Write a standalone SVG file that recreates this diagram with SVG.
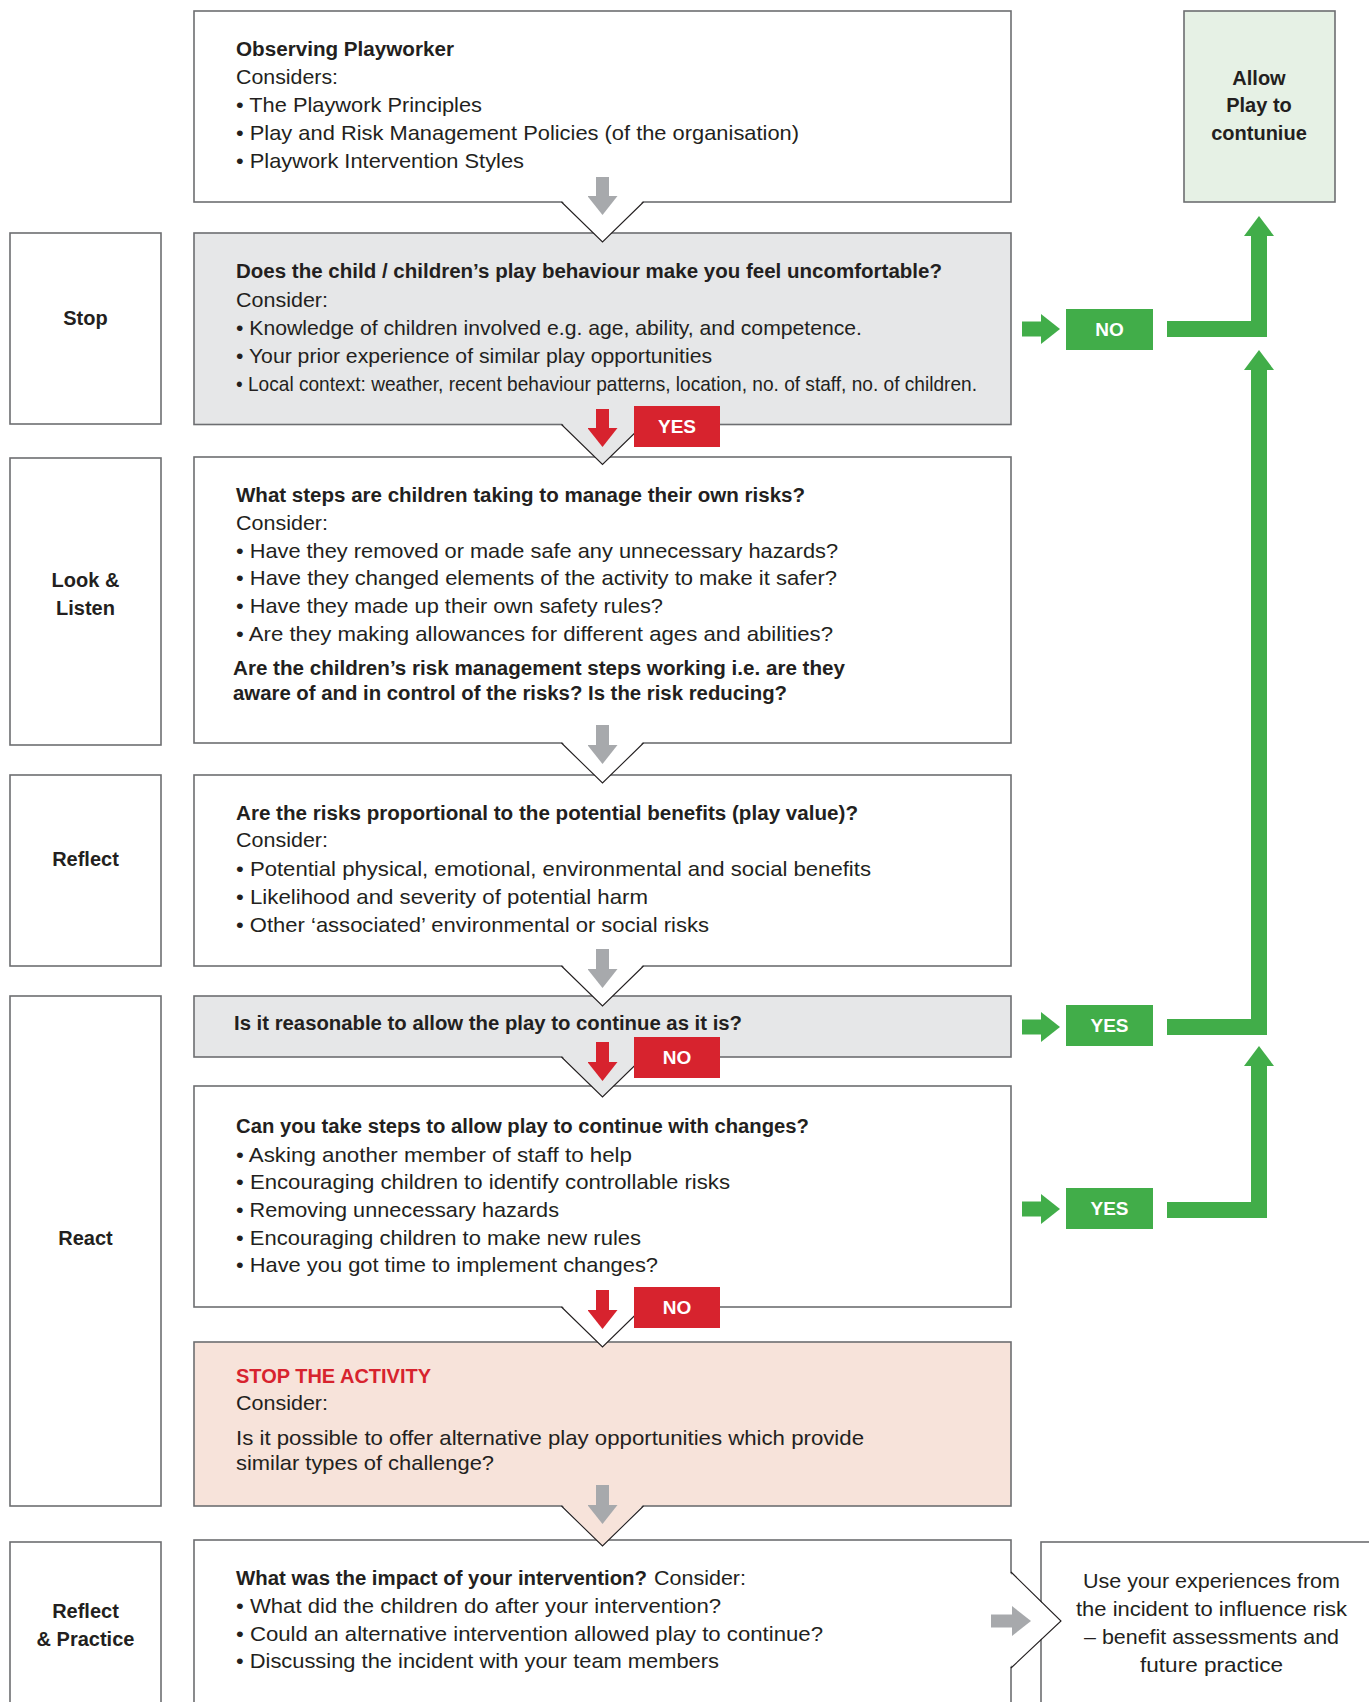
<svg xmlns="http://www.w3.org/2000/svg" width="1369" height="1702" viewBox="0 0 1369 1702">
<style>
.t{font-family:'Liberation Sans',Arial,sans-serif;font-size:21px;fill:#231f20}
.b{font-family:'Liberation Sans',Arial,sans-serif;font-size:20px;font-weight:bold;fill:#231f20}
.lbl{font-family:'Liberation Sans',Arial,sans-serif;font-size:20px;font-weight:bold;fill:#231f20;text-anchor:middle}
.tag{font-family:'Liberation Sans',Arial,sans-serif;font-size:19px;font-weight:bold;fill:#ffffff;text-anchor:middle}
.box{stroke:#6d6e71;stroke-width:1.6}
.arm{fill:none;stroke:#231f20;stroke-width:1.1}
.white{fill:#ffffff}
.grey{fill:#e6e7e8}
.peach{fill:#f7e3da}
.lgreen{fill:#e6f1e5}
.red{fill:#d7232e}
.green{fill:#41ad49}
.gA{stroke:#a7a9ac;stroke-width:13;fill:none}
.rA{stroke:#d7232e;stroke-width:13;fill:none}
.sA{stroke:#41ad49;stroke-width:15;fill:none}
.cA{stroke:#41ad49;stroke-width:16;fill:none;stroke-linejoin:miter}
</style>
<defs>
<marker id="hg" viewBox="0 0 19 30" markerWidth="19" markerHeight="30" refX="0" refY="15" orient="auto" markerUnits="userSpaceOnUse"><path d="M0,0 L19,15 L0,30 Z" fill="#a7a9ac"/></marker>
<marker id="hr" viewBox="0 0 19 30" markerWidth="19" markerHeight="30" refX="0" refY="15" orient="auto" markerUnits="userSpaceOnUse"><path d="M0,0 L19,15 L0,30 Z" fill="#d7232e"/></marker>
<marker id="hgr" viewBox="0 0 19 30" markerWidth="19" markerHeight="30" refX="0" refY="15" orient="auto" markerUnits="userSpaceOnUse"><path d="M0,0 L19,15 L0,30 Z" fill="#41ad49"/></marker>
<marker id="hgb" viewBox="0 0 20 30" markerWidth="20" markerHeight="30" refX="0" refY="15" orient="auto" markerUnits="userSpaceOnUse"><path d="M0,0 L20,15 L0,30 Z" fill="#41ad49"/></marker>
</defs>
<rect width="1369" height="1702" fill="#ffffff"/>

<!-- left labels -->
<g id="label-stop"><rect class="box white" x="10" y="233" width="151" height="191"/><text class="lbl" x="85.5" y="325">Stop</text></g>
<g id="label-look"><rect class="box white" x="10" y="458" width="151" height="287"/><text class="lbl" x="85.5" y="587">Look &amp;</text><text class="lbl" x="85.5" y="615">Listen</text></g>
<g id="label-reflect"><rect class="box white" x="10" y="775" width="151" height="191"/><text class="lbl" x="85.5" y="866">Reflect</text></g>
<g id="label-react"><rect class="box white" x="10" y="996" width="151" height="510"/><text class="lbl" x="85.5" y="1245">React</text></g>
<g id="label-practice"><rect class="box white" x="10" y="1542" width="151" height="200"/><text class="lbl" x="85.5" y="1618">Reflect</text><text class="lbl" x="85.5" y="1646">&amp; Practice</text></g>

<!-- right outcome boxes -->
<g id="allow"><rect class="box lgreen" x="1184" y="11" width="151" height="191"/><text class="lbl" x="1259" y="85">Allow</text><text class="lbl" x="1259" y="112">Play to</text><text class="lbl" x="1259" y="140">contuniue</text></g>
<g id="use-experiences"><rect class="box white" x="1041" y="1542" width="340" height="200"/>
<text class="t" x="1211.5" y="1588" text-anchor="middle" textLength="257" lengthAdjust="spacingAndGlyphs">Use your experiences from</text>
<text class="t" x="1211.5" y="1616" text-anchor="middle" textLength="271" lengthAdjust="spacingAndGlyphs">the incident to influence risk</text>
<text class="t" x="1211.5" y="1644" text-anchor="middle" textLength="255" lengthAdjust="spacingAndGlyphs">– benefit assessments and</text>
<text class="t" x="1211.5" y="1672" text-anchor="middle" textLength="143" lengthAdjust="spacingAndGlyphs">future practice</text></g>

<!-- main boxes, bottom first so pointers overlap -->
<g id="impact">
<rect class="box white" x="194" y="1540" width="817" height="200"/>
<polygon class="white" points="1009,1572 1061,1621 1009,1668"/>
<polyline class="arm" points="1011,1572 1061,1621 1011,1668"/>
<text class="b" x="236" y="1585" textLength="411" lengthAdjust="spacingAndGlyphs">What was the impact of your intervention?</text><text class="t" x="654" y="1585" textLength="92" lengthAdjust="spacingAndGlyphs">Consider:</text>
<text class="t" x="236" y="1613" textLength="485" lengthAdjust="spacingAndGlyphs">• What did the children do after your intervention?</text>
<text class="t" x="236" y="1641" textLength="587" lengthAdjust="spacingAndGlyphs">• Could an alternative intervention allowed play to continue?</text>
<text class="t" x="236" y="1668" textLength="483" lengthAdjust="spacingAndGlyphs">• Discussing the incident with your team members</text>
</g>

<g id="stop-activity">
<rect class="box peach" x="194" y="1342" width="817" height="164"/>
<polygon class="peach" points="561.5,1504.5 602.5,1546 643.5,1504.5"/>
<polyline class="arm" points="561.5,1506 602.5,1546 643.5,1506"/>
<text class="b" x="236" y="1383" style="fill:#d7232e" textLength="195" lengthAdjust="spacingAndGlyphs">STOP THE ACTIVITY</text>
<text class="t" x="236" y="1410" textLength="92" lengthAdjust="spacingAndGlyphs">Consider:</text>
<text class="t" x="236" y="1445" textLength="628" lengthAdjust="spacingAndGlyphs">Is it possible to offer alternative play opportunities which provide</text>
<text class="t" x="236" y="1470" textLength="258" lengthAdjust="spacingAndGlyphs">similar types of challenge?</text>
</g>

<g id="changes">
<rect class="box white" x="194" y="1086" width="817" height="221"/>
<polygon class="white" points="561.5,1305.5 602.5,1347 643.5,1305.5"/>
<polyline class="arm" points="561.5,1307 602.5,1347 643.5,1307"/>
<text class="b" x="236" y="1133" textLength="573" lengthAdjust="spacingAndGlyphs">Can you take steps to allow play to continue with changes?</text>
<text class="t" x="236" y="1162" textLength="396" lengthAdjust="spacingAndGlyphs">• Asking another member of staff to help</text>
<text class="t" x="236" y="1189" textLength="494" lengthAdjust="spacingAndGlyphs">• Encouraging children to identify controllable risks</text>
<text class="t" x="236" y="1217" textLength="323" lengthAdjust="spacingAndGlyphs">• Removing unnecessary hazards</text>
<text class="t" x="236" y="1245" textLength="405" lengthAdjust="spacingAndGlyphs">• Encouraging children to make new rules</text>
<text class="t" x="236" y="1272" textLength="422" lengthAdjust="spacingAndGlyphs">• Have you got time to implement changes?</text>
</g>

<g id="reasonable">
<rect class="box grey" x="194" y="996" width="817" height="61"/>
<polygon class="grey" points="561.5,1055.5 602.5,1097 643.5,1055.5"/>
<polyline class="arm" points="561.5,1057 602.5,1097 643.5,1057"/>
<text class="b" x="234" y="1030" textLength="508" lengthAdjust="spacingAndGlyphs">Is it reasonable to allow the play to continue as it is?</text>
</g>

<g id="proportional">
<rect class="box white" x="194" y="775" width="817" height="191"/>
<polygon class="white" points="561.5,964.5 602.5,1006 643.5,964.5"/>
<polyline class="arm" points="561.5,966 602.5,1006 643.5,966"/>
<text class="b" x="236" y="820" textLength="622" lengthAdjust="spacingAndGlyphs">Are the risks proportional to the potential benefits (play value)?</text>
<text class="t" x="236" y="847" textLength="92" lengthAdjust="spacingAndGlyphs">Consider:</text>
<text class="t" x="236" y="876" textLength="635" lengthAdjust="spacingAndGlyphs">• Potential physical, emotional, environmental and social benefits</text>
<text class="t" x="236" y="904" textLength="412" lengthAdjust="spacingAndGlyphs">• Likelihood and severity of potential harm</text>
<text class="t" x="236" y="932" textLength="473" lengthAdjust="spacingAndGlyphs">• Other ‘associated’ environmental or social risks</text>
</g>

<g id="children-steps">
<rect class="box white" x="194" y="457" width="817" height="286"/>
<polygon class="white" points="561.5,741.5 602.5,783 643.5,741.5"/>
<polyline class="arm" points="561.5,743 602.5,783 643.5,743"/>
<text class="b" x="236" y="502" textLength="569" lengthAdjust="spacingAndGlyphs">What steps are children taking to manage their own risks?</text>
<text class="t" x="236" y="530" textLength="92" lengthAdjust="spacingAndGlyphs">Consider:</text>
<text class="t" x="236" y="558" textLength="602" lengthAdjust="spacingAndGlyphs">• Have they removed or made safe any unnecessary hazards?</text>
<text class="t" x="236" y="585" textLength="601" lengthAdjust="spacingAndGlyphs">• Have they changed elements of the activity to make it safer?</text>
<text class="t" x="236" y="613" textLength="427" lengthAdjust="spacingAndGlyphs">• Have they made up their own safety rules?</text>
<text class="t" x="236" y="641" textLength="597" lengthAdjust="spacingAndGlyphs">• Are they making allowances for different ages and abilities?</text>
<text class="b" x="233" y="675" textLength="612" lengthAdjust="spacingAndGlyphs">Are the children’s risk management steps working i.e. are they</text>
<text class="b" x="233" y="700" textLength="554" lengthAdjust="spacingAndGlyphs">aware of and in control of the risks? Is the risk reducing?</text>
</g>

<g id="uncomfortable">
<rect class="box grey" x="194" y="233" width="817" height="191.5"/>
<polygon class="grey" points="561.5,423 602.5,464.5 643.5,423"/>
<polyline class="arm" points="561.5,424.5 602.5,464.5 643.5,424.5"/>
<text class="b" x="236" y="278" textLength="706" lengthAdjust="spacingAndGlyphs">Does the child / children’s play behaviour make you feel uncomfortable?</text>
<text class="t" x="236" y="307" textLength="92" lengthAdjust="spacingAndGlyphs">Consider:</text>
<text class="t" x="236" y="335" textLength="626" lengthAdjust="spacingAndGlyphs">• Knowledge of children involved e.g. age, ability, and competence.</text>
<text class="t" x="236" y="363" textLength="476" lengthAdjust="spacingAndGlyphs">• Your prior experience of similar play opportunities</text>
<text class="t" x="236" y="391" textLength="741" lengthAdjust="spacingAndGlyphs">• Local context: weather, recent behaviour patterns, location, no. of staff, no. of children.</text>
</g>

<g id="observing">
<rect class="box white" x="194" y="11" width="817" height="191"/>
<polygon class="white" points="561.5,200.5 602.5,242 643.5,200.5"/>
<polyline class="arm" points="561.5,202 602.5,242 643.5,202"/>
<text class="b" x="236" y="56" textLength="218" lengthAdjust="spacingAndGlyphs">Observing Playworker</text>
<text class="t" x="236" y="84" textLength="102" lengthAdjust="spacingAndGlyphs">Considers:</text>
<text class="t" x="236" y="112" textLength="246" lengthAdjust="spacingAndGlyphs">• The Playwork Principles</text>
<text class="t" x="236" y="140" textLength="563" lengthAdjust="spacingAndGlyphs">• Play and Risk Management Policies (of the organisation)</text>
<text class="t" x="236" y="168" textLength="288" lengthAdjust="spacingAndGlyphs">• Playwork Intervention Styles</text>
</g>

<!-- decision tags -->
<g id="tag-yes-1"><rect class="red" x="634" y="406" width="86" height="41"/><text class="tag" x="677" y="433">YES</text></g>
<g id="tag-no-1"><rect class="red" x="634" y="1037" width="86" height="41"/><text class="tag" x="677" y="1064">NO</text></g>
<g id="tag-no-2"><rect class="red" x="634" y="1287" width="86" height="41"/><text class="tag" x="677" y="1314">NO</text></g>
<g id="tag-no-green"><rect class="green" x="1066" y="309" width="87" height="41"/><text class="tag" x="1109.5" y="336">NO</text></g>
<g id="tag-yes-green-1"><rect class="green" x="1066" y="1005" width="87" height="41"/><text class="tag" x="1109.5" y="1032">YES</text></g>
<g id="tag-yes-green-2"><rect class="green" x="1066" y="1188" width="87" height="41"/><text class="tag" x="1109.5" y="1215">YES</text></g>

<!-- connectors -->
<g id="connectors">
<path class="gA" d="M602.5,177 V196" marker-end="url(#hg)"/>
<path class="rA" d="M602.5,409 V428" marker-end="url(#hr)"/>
<path class="gA" d="M602.5,725 V745" marker-end="url(#hg)"/>
<path class="gA" d="M602.5,949 V969" marker-end="url(#hg)"/>
<path class="rA" d="M602.5,1042 V1062" marker-end="url(#hr)"/>
<path class="rA" d="M602.5,1290 V1310" marker-end="url(#hr)"/>
<path class="gA" d="M602.5,1485 V1505" marker-end="url(#hg)"/>
<path class="gA" d="M991,1621 H1012" marker-end="url(#hg)"/>
<path class="sA" d="M1022,329 H1041" marker-end="url(#hgr)"/>
<path class="sA" d="M1022,1027 H1041" marker-end="url(#hgr)"/>
<path class="sA" d="M1022,1209 H1041" marker-end="url(#hgr)"/>
<path class="cA" d="M1167,329 H1259 V236" marker-end="url(#hgb)"/>
<path class="cA" d="M1167,1027 H1259 V370" marker-end="url(#hgb)"/>
<path class="cA" d="M1167,1210 H1259 V1066" marker-end="url(#hgb)"/>
</g>
</svg>
